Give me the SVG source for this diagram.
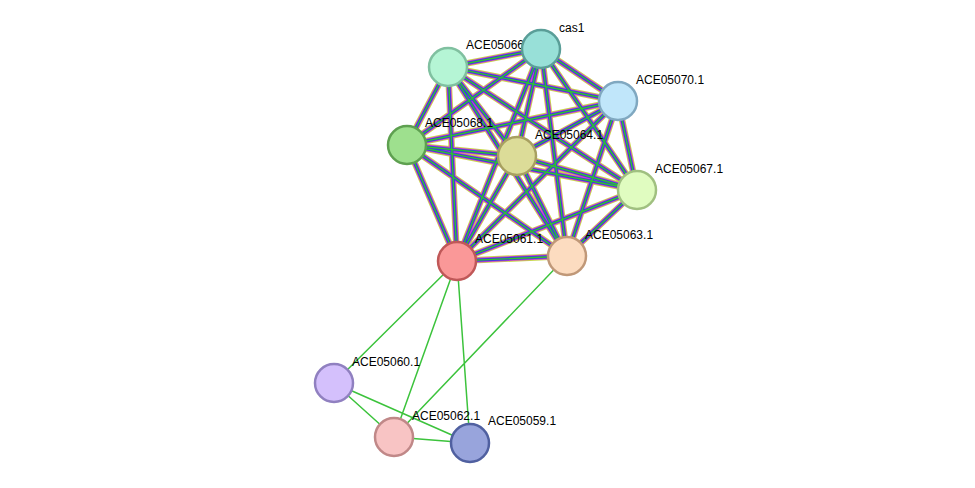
<svg xmlns="http://www.w3.org/2000/svg" width="975" height="488" viewBox="0 0 975 488">
<style>
.n circle{stroke-width:2.5}
.n text{font-family:"Liberation Sans",Arial,sans-serif;font-size:12px;fill:#000}
.l1{stroke:#c8d84a;stroke-width:6.5;fill:none}
.l2{stroke:#d040d0;stroke-width:4.8;fill:none}
.l3{stroke:#3a3ae0;stroke-width:3.2;fill:none}
.l4{stroke:#30c030;stroke-width:1.4;fill:none}
.g{stroke:#3cc33c;stroke-width:1.5;fill:none}
</style>
<defs>
<path id="cl" d="M541,49L448,67M541,49L618,101M541,49L407,145M541,49L517,156M541,49L637,190M541,49L457,261M541,49L567,256M448,67L618,101M448,67L407,145M448,67L517,156M448,67L637,190M448,67L457,261M448,67L567,256M618,101L407,145M618,101L517,156M618,101L637,190M618,101L457,261M618,101L567,256M407,145L517,156M407,145L637,190M407,145L457,261M407,145L567,256M517,156L637,190M517,156L457,261M517,156L567,256M637,190L457,261M637,190L567,256M457,261L567,256"/>
</defs>
<rect width="975" height="488" fill="#fff"/>
<g id="connectors">
<use href="#cl" class="l1"/>
<use href="#cl" class="l2"/>
<use href="#cl" class="l3"/>
<use href="#cl" class="l4"/>
<path class="g" d="M457,261L334,383M457,261L394,437M457,261L470,443M567,256L394,437M334,383L394,437M334,383L470,443M394,437L470,443"/>
</g>
<g id="ACE05066.1" class="n"><text x="466" y="49">ACE05066.1</text><circle cx="448" cy="67" r="19" fill="#b5f5d5" stroke="#80c0a0"/></g>
<g id="cas1" class="n"><circle cx="541" cy="49" r="19" fill="#98e0d8" stroke="#5a9e98"/><text x="559" y="32">cas1</text></g>
<g id="ACE05070.1" class="n"><circle cx="618" cy="101" r="19" fill="#c0e6fa" stroke="#80a8c0"/><text x="636" y="84">ACE05070.1</text></g>
<g id="ACE05068.1" class="n"><circle cx="407" cy="145" r="19" fill="#9ee08e" stroke="#5ea050"/><text x="425" y="127">ACE05068.1</text></g>
<g id="ACE05064.1" class="n"><circle cx="517" cy="156" r="19" fill="#dcdc98" stroke="#a8a060"/><text x="535" y="139">ACE05064.1</text></g>
<g id="ACE05067.1" class="n"><circle cx="637" cy="190" r="19" fill="#e0fcc0" stroke="#a0c080"/><text x="655" y="173">ACE05067.1</text></g>
<g id="ACE05061.1" class="n"><circle cx="457" cy="261" r="19" fill="#fa9898" stroke="#c05858"/><text x="475" y="243">ACE05061.1</text></g>
<g id="ACE05063.1" class="n"><circle cx="567" cy="256" r="19" fill="#fcdcc0" stroke="#c09878"/><text x="585" y="239">ACE05063.1</text></g>
<g id="ACE05060.1" class="n"><circle cx="334" cy="383" r="19" fill="#d4c0fc" stroke="#9080c0"/><text x="352" y="366">ACE05060.1</text></g>
<g id="ACE05062.1" class="n"><circle cx="394" cy="437" r="19" fill="#f8c4c4" stroke="#c08888"/><text x="412" y="420">ACE05062.1</text></g>
<g id="ACE05059.1" class="n"><circle cx="470" cy="443" r="19" fill="#98a4dc" stroke="#5060a0"/><text x="488" y="425">ACE05059.1</text></g>
</svg>
